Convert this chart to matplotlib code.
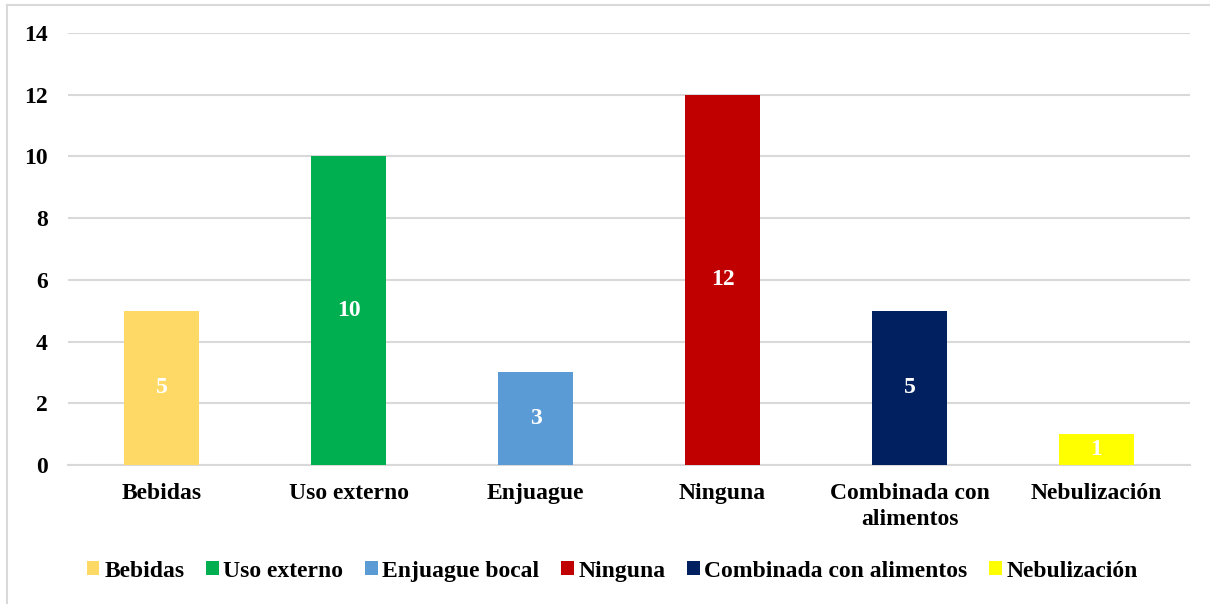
import matplotlib
matplotlib.use("Agg")
import matplotlib.pyplot as plt
from matplotlib.lines import Line2D
from matplotlib.patches import Patch

categories = ["Bebidas", "Uso externo", "Enjuague", "Ninguna", "Combinada con\nalimentos", "Nebulización"]
legend_labels = ["Bebidas", "Uso externo", "Enjuague bocal", "Ninguna", "Combinada con alimentos", "Nebulización"]
values = [5, 10, 3, 12, 5, 1]
colors = ["#FFD966", "#00B050", "#5B9BD5", "#C00000", "#002060", "#FFFF00"]
yticks = [0, 2, 4, 6, 8, 10, 12, 14]

plt.rcParams['font.family'] = ['Liberation Serif', 'DejaVu Serif']
plt.rcParams['font.weight'] = 'bold'
FS = 17

fig = plt.figure(figsize=(12.1, 6.04), dpi=100)
ax = fig.add_axes([0.0562, 0.2301, 0.9273, 0.7153])

x = list(range(len(categories)))
bars = ax.bar(x, values, width=0.4, color=colors, zorder=3)
for b, v in zip(bars, values):
    ax.text(b.get_x() + b.get_width() / 2, v / 2, str(v), ha='center', va='center',
            color='white', fontsize=FS, fontweight='bold', zorder=4)

ax.set_xlim(-0.5, len(categories) - 0.5)
ax.set_ylim(0, 14)
ax.set_yticks(yticks)
ax.set_yticklabels([str(t) for t in yticks], fontsize=FS, fontweight='bold')
ax.set_xticks(x)
ax.set_xticklabels(categories, fontsize=FS, fontweight='bold', linespacing=1.3)
ax.tick_params(axis='both', length=0)
ax.tick_params(axis='y', pad=14.5)
ax.tick_params(axis='x', pad=13)
ax.grid(axis='y', color='#D9D9D9', linewidth=1.5, zorder=0)
for s in ['top', 'right', 'left']:
    ax.spines[s].set_visible(False)
ax.spines['bottom'].set_color('#D9D9D9')
ax.spines['bottom'].set_linewidth(1.5)

handles = [Patch(facecolor=c, label=l) for c, l in zip(colors, legend_labels)]
fig.legend(handles=handles, loc='center', bbox_to_anchor=(0.506, 0.0546), ncol=6, frameon=False,
           prop={'size': FS, 'weight': 'bold'}, handlelength=0.55, handleheight=0.55,
           handletextpad=0.2, columnspacing=0.9, borderaxespad=0)

# figure frame: only left and top edges visible in the image
fig.add_artist(Line2D([6.5 / 1210, 6.5 / 1210], [0, 1 - 4.5 / 604], transform=fig.transFigure,
                      color='#D9D9D9', linewidth=1.5))
fig.add_artist(Line2D([6.5 / 1210, 1], [1 - 4.5 / 604, 1 - 4.5 / 604], transform=fig.transFigure,
                      color='#D9D9D9', linewidth=1.5))

fig.savefig("out.png", dpi=100, facecolor='white')
